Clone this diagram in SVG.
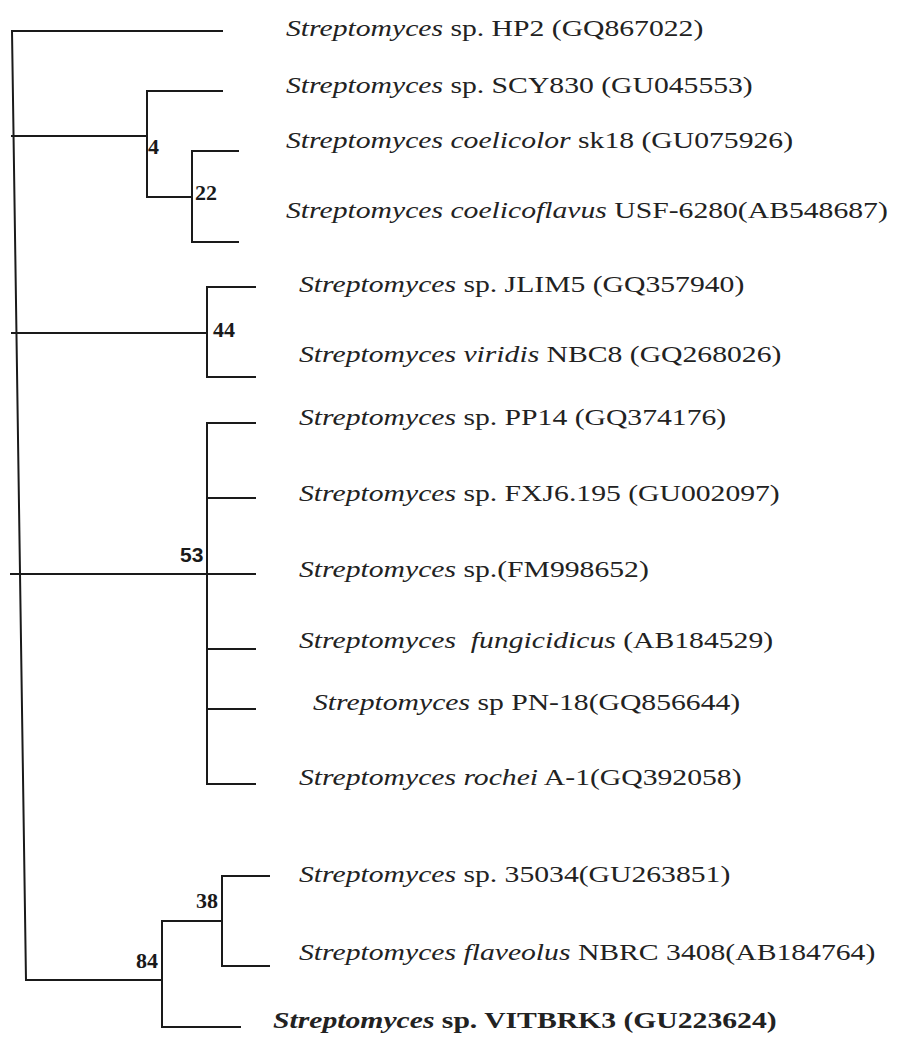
<svg xmlns="http://www.w3.org/2000/svg" width="901" height="1037" viewBox="0 0 901 1037">
<style>
.e{fill:none;stroke:#1a1a1a;stroke-width:2;stroke-linecap:square}
.lbl{font-family:"Liberation Serif","Times New Roman",serif;font-size:23px;fill:#222;white-space:pre}
.it{font-style:italic}
.bs{font-family:"Liberation Serif","Times New Roman",serif;font-size:22px;font-weight:bold;fill:#1a1a1a}
.bs2{font-family:"Liberation Sans",Arial,sans-serif;font-size:21px;font-weight:bold;fill:#1a1a1a}
</style>
<rect width="901" height="1037" fill="#ffffff"/>
<g id="edges">
<path class="e" d="M12,31 L26,980"/>
<path class="e" d="M12,31 H222"/>
<path class="e" d="M12,136 H147 M147,91 V197 M147,91 H222 M147,197 H192 M192,151 V242 M192,151 H238 M192,242 H238"/>
<path class="e" d="M12,333 H207 M207,287 V377 M207,287 H255 M207,377 H255"/>
<path class="e" d="M11,574 H255 M207,423 V784 M207,423 H255 M207,498 H255 M207,649 H255 M207,709 H255 M207,784 H255"/>
<path class="e" d="M26,980 H162 M162,921 V1027 M162,1027 H240 M162,921 H222 M222,876 V966 M222,876 H269 M222,966 H269"/>
</g>
<g id="bootstrap">
<text class="bs" x="148" y="154">4</text>
<text class="bs" x="195" y="200">22</text>
<text class="bs" x="213" y="337">44</text>
<text class="bs2" x="180" y="562">53</text>
<text class="bs" x="196" y="908">38</text>
<text class="bs" x="136" y="968">84</text>
</g>
<g id="n-HP2"><text class="lbl" transform="translate(286,36) scale(1.29,1)"><tspan class="it">Streptomyces</tspan> sp. HP2 (GQ867022)</text></g>
<g id="n-SCY830"><text class="lbl" transform="translate(286,93) scale(1.29,1)"><tspan class="it">Streptomyces</tspan> sp. SCY830 (GU045553)</text></g>
<g id="n-sk18"><text class="lbl" transform="translate(286,148) scale(1.29,1)"><tspan class="it">Streptomyces coelicolor</tspan> sk18 (GU075926)</text></g>
<g id="n-USF6280"><text class="lbl" transform="translate(286,218) scale(1.29,1)"><tspan class="it">Streptomyces coelicoflavus</tspan> USF-6280(AB548687)</text></g>
<g id="n-JLIM5"><text class="lbl" transform="translate(299,292) scale(1.29,1)"><tspan class="it">Streptomyces</tspan> sp. JLIM5 (GQ357940)</text></g>
<g id="n-NBC8"><text class="lbl" transform="translate(299,362) scale(1.29,1)"><tspan class="it">Streptomyces viridis</tspan> NBC8 (GQ268026)</text></g>
<g id="n-PP14"><text class="lbl" transform="translate(299,425) scale(1.29,1)"><tspan class="it">Streptomyces</tspan> sp. PP14 (GQ374176)</text></g>
<g id="n-FXJ6195"><text class="lbl" transform="translate(299,501) scale(1.29,1)"><tspan class="it">Streptomyces</tspan> sp. FXJ6.195 (GU002097)</text></g>
<g id="n-FM998652"><text class="lbl" transform="translate(299,577) scale(1.29,1)"><tspan class="it">Streptomyces</tspan> sp.(FM998652)</text></g>
<g id="n-AB184529"><text class="lbl" transform="translate(299,648) scale(1.29,1)"><tspan class="it">Streptomyces  fungicidicus</tspan> (AB184529)</text></g>
<g id="n-PN18"><text class="lbl" transform="translate(313,710) scale(1.29,1)"><tspan class="it">Streptomyces</tspan> sp PN-18(GQ856644)</text></g>
<g id="n-A1"><text class="lbl" transform="translate(299,785) scale(1.29,1)"><tspan class="it">Streptomyces rochei</tspan> A-1(GQ392058)</text></g>
<g id="n-35034"><text class="lbl" transform="translate(299,882) scale(1.29,1)"><tspan class="it">Streptomyces</tspan> sp. 35034(GU263851)</text></g>
<g id="n-NBRC3408"><text class="lbl" transform="translate(299,960) scale(1.29,1)"><tspan class="it">Streptomyces flaveolus</tspan> NBRC 3408(AB184764)</text></g>
<g id="n-VITBRK3"><text class="lbl" font-weight="bold" transform="translate(273,1028) scale(1.29,1)"><tspan class="it">Streptomyces</tspan> sp. VITBRK3 (GU223624)</text></g>
</svg>
